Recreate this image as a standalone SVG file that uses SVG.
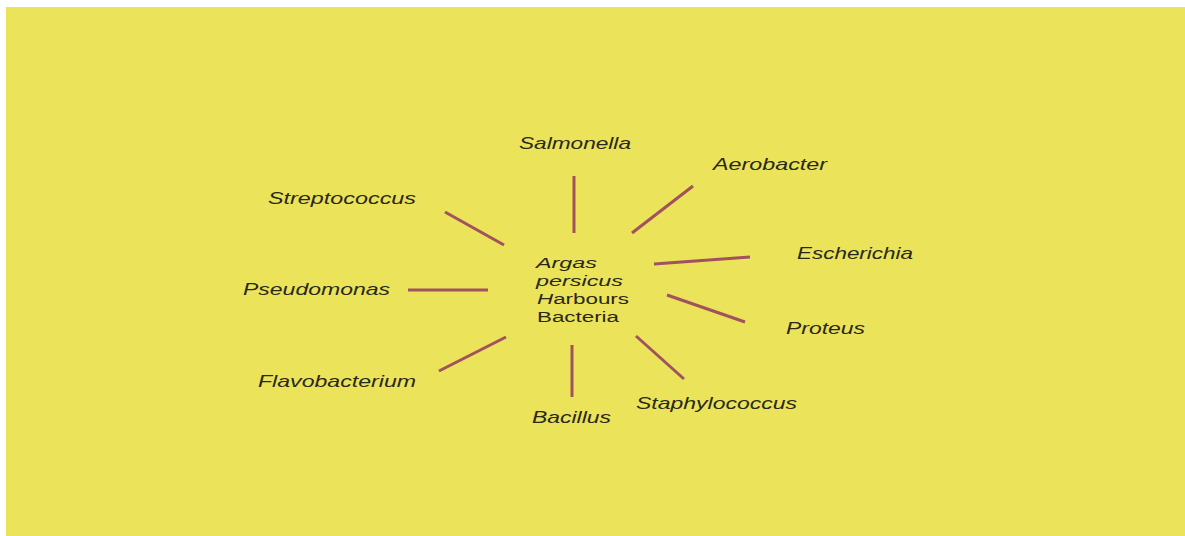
<svg xmlns="http://www.w3.org/2000/svg" width="1185" height="536" viewBox="0 0 1185 536">
<style>
.lbl{font-family:"Liberation Sans",Arial,sans-serif;font-size:16.5px;font-style:italic;fill:#29281a}
.ctr{font-family:"Liberation Sans",Arial,sans-serif;font-size:15.5px;fill:#29281a}
.it{font-style:italic}
.con line{stroke:#a0525e;stroke-width:3;stroke-linecap:butt}
</style>
<rect x="0" y="0" width="1185" height="536" fill="#ffffff"/>
<rect x="6" y="7" width="1179" height="529" fill="#ebe35a"/>
<g id="connectors" class="con">
<line x1="574" y1="176" x2="574" y2="233"/>
<line x1="693" y1="186" x2="632" y2="233"/>
<line x1="445" y1="212" x2="504" y2="245"/>
<line x1="654" y1="264" x2="750" y2="257"/>
<line x1="408" y1="290" x2="488" y2="290"/>
<line x1="667" y1="295" x2="745" y2="322"/>
<line x1="439" y1="371" x2="506" y2="337"/>
<line x1="572" y1="345" x2="572" y2="397"/>
<line x1="636" y1="336" x2="684" y2="379"/>
</g>
<g id="center">
<text class="ctr it" x="536" y="268" textLength="61" lengthAdjust="spacingAndGlyphs">Argas</text>
<text class="ctr it" x="536" y="286" textLength="87" lengthAdjust="spacingAndGlyphs">persicus</text>
<text class="ctr" x="537" y="304" textLength="92" lengthAdjust="spacingAndGlyphs"><tspan class="it">H</tspan>arbours</text>
<text class="ctr" x="537" y="322" textLength="82" lengthAdjust="spacingAndGlyphs">Bacteria</text>
</g>
<g id="salmonella"><text class="lbl" x="519" y="149" textLength="112" lengthAdjust="spacingAndGlyphs">Salmonella</text></g>
<g id="aerobacter"><text class="lbl" x="713" y="170" textLength="114" lengthAdjust="spacingAndGlyphs">Aerobacter</text></g>
<g id="streptococcus"><text class="lbl" x="268" y="204" textLength="148" lengthAdjust="spacingAndGlyphs">Streptococcus</text></g>
<g id="escherichia"><text class="lbl" x="797" y="259" textLength="116" lengthAdjust="spacingAndGlyphs">Escherichia</text></g>
<g id="pseudomonas"><text class="lbl" x="243" y="295" textLength="147" lengthAdjust="spacingAndGlyphs">Pseudomonas</text></g>
<g id="proteus"><text class="lbl" x="786" y="334" textLength="79" lengthAdjust="spacingAndGlyphs">Proteus</text></g>
<g id="flavobacterium"><text class="lbl" x="258" y="387" textLength="158" lengthAdjust="spacingAndGlyphs">Flavobacterium</text></g>
<g id="staphylococcus"><text class="lbl" x="636" y="409" textLength="161" lengthAdjust="spacingAndGlyphs">Staphylococcus</text></g>
<g id="bacillus"><text class="lbl" x="532" y="423" textLength="79" lengthAdjust="spacingAndGlyphs">Bacillus</text></g>
</svg>
